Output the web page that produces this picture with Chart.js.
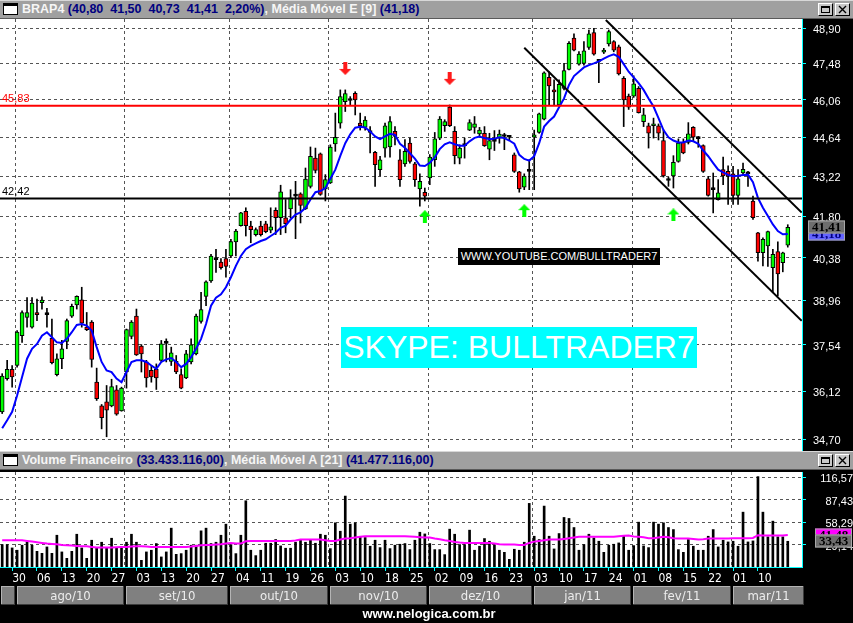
<!DOCTYPE html>
<html>
<head>
<meta charset="utf-8">
<script src="https://cdn.jsdelivr.net/npm/chart.js@4.4.1/dist/chart.umd.min.js"></script>
<style>
  body { margin: 0; background: #000; width: 853px; height: 623px; overflow: hidden; position: relative; font-family: 'Liberation Sans', Arial, sans-serif; }
  .hdr { position: absolute; left: 0; width: 853px; height: 17px; background: #a0a0a0; border-top: 1px solid #d8d8d8; border-bottom: 1px solid #5a5a5a; }
  .ico { position: absolute; left: 3px; top: 2px; width: 13px; height: 8px; background: #fff; border: 1px solid #000; border-top-width: 3px; }
  .ttl { position: absolute; left: 22px; top: 1px; font: bold 12.5px 'Liberation Sans', Arial, sans-serif; white-space: pre; line-height: 15px; }
  .w { color: #f6f6f6; }
  .n { color: #000080; }
  .btn { position: absolute; top: 2px; width: 15px; height: 13px; box-sizing: border-box; background: #c8c8c8; border-top: 1px solid #fff; border-left: 1px solid #fff; border-right: 1px solid #000; border-bottom: 1px solid #000; }
  .btn svg { position: absolute; left: 1px; top: 1px; }
  canvas { position: absolute; left: 0; }
  .skype { position: absolute; left: 341px; top: 327px; width: 356px; height: 41px; background: #00ffff; color: #fff; font: 32px 'Liberation Sans', Arial, sans-serif; line-height: 41px; text-align: center; }
  .yt { position: absolute; left: 458px; top: 248px; width: 202px; height: 17px; background: #000; color: #fff; font: 11px 'Liberation Sans', Arial, sans-serif; line-height: 17px; text-align: center; }
  .foot { position: absolute; left: 0; top: 606px; width: 858px; text-align: center; color: #fff; font: bold 13px 'Liberation Sans Narrow', 'Liberation Sans', sans-serif; }
</style>
</head>
<body>
<div class="hdr" style="top:0">
  <div class="ico"></div>
  <div class="ttl"><span class="w">BRAP4 </span><span class="n">(40,80  41,50  40,73  41,41  2,20%)</span><span class="w">, Média Móvel E [9] </span><span class="n">(41,18)</span></div>
  <div class="btn" style="left:818px"><svg width="11" height="9"><rect x="1.5" y="1.5" width="8" height="6" fill="none" stroke="#000"/><rect x="1" y="1" width="9" height="2" fill="#000"/></svg></div>
  <div class="btn" style="left:835px"><svg width="11" height="9"><path d="M2 1 L9 8 M9 1 L2 8" stroke="#000" stroke-width="1.4"/></svg></div>
</div>
<canvas id="priceChart" width="853" height="432" style="top:19px"></canvas>
<div class="hdr" style="top:451px">
  <div class="ico"></div>
  <div class="ttl"><span class="w">Volume Financeiro </span><span class="n">(33.433.116,00)</span><span class="w">, Média Móvel A [21] </span><span class="n">(41.477.116,00)</span></div>
  <div class="btn" style="left:818px"><svg width="11" height="9"><rect x="1.5" y="1.5" width="8" height="6" fill="none" stroke="#000"/><rect x="1" y="1" width="9" height="2" fill="#000"/></svg></div>
  <div class="btn" style="left:835px"><svg width="11" height="9"><path d="M2 1 L9 8 M9 1 L2 8" stroke="#000" stroke-width="1.4"/></svg></div>
</div>
<canvas id="volumeChart" width="853" height="151" style="top:472px"></canvas>
<div class="yt">WWW.YOUTUBE.COM/BULLTRADER7</div>
<div class="skype">SKYPE: BULLTRADER7</div>
<div class="foot">www.nelogica.com.br</div>

<script>
// daily candles, 28/jul/2010 .. mar/2011
const opens = [
  35.50, 36.50, 36.78, 36.90, 37.83, 38.41, 38.10, 38.57, 38.89, 38.50,
  37.75, 36.62, 37.11, 37.65, 38.45, 38.81, 38.98, 38.10, 38.26, 36.39,
  35.68, 35.80, 35.68, 36.16, 35.53, 36.70, 37.81, 38.45, 37.50, 37.01,
  36.75, 36.78, 37.06, 37.59, 37.03, 37.03, 36.62, 36.52, 37.01, 37.26,
  38.28, 39.09, 39.60, 40.31, 40.23, 40.34, 40.43, 40.91, 41.47, 41.97,
  41.45, 41.16, 41.45, 41.53, 41.31, 42.00, 41.74, 41.74, 42.05, 42.50,
  42.58, 42.05, 42.85, 43.87, 44.03, 42.76, 42.97, 44.39, 45.17, 45.99,
  46.03, 46.31, 45.17, 45.01, 44.82, 44.08, 43.45, 44.24, 44.28, 44.86,
  43.81, 43.66, 44.42, 43.66, 42.76, 42.64, 43.15, 43.81, 44.61, 45.07,
  45.78, 44.86, 43.87, 44.33, 44.91, 45.01, 44.77, 44.79, 44.20, 44.49,
  44.61, 44.67, 44.64, 43.99, 43.37, 42.82, 43.39, 44.64, 44.82, 45.32,
  46.93, 46.44, 45.86, 46.50, 47.24, 48.49, 47.45, 47.48, 48.12, 48.72,
  47.56, 47.93, 48.26, 48.35, 48.14, 46.89, 46.20, 46.20, 46.50, 45.23,
  45.07, 45.07, 45.07, 44.52, 43.06, 43.22, 43.75, 44.45, 44.45, 45.01,
  44.59, 44.33, 43.12, 42.73, 42.38, 43.45, 43.39, 43.30, 42.53, 43.33,
  43.30, 42.33, 41.22, 40.54, 40.77, 40.04, 40.58, 40.21, 40.80
];
const highs = [
  36.65, 37.06, 36.90, 37.99, 38.62, 39.05, 39.05, 39.00, 39.08, 38.70,
  38.36, 37.26, 37.68, 38.36, 38.84, 39.11, 39.39, 38.57, 38.31, 36.82,
  35.72, 36.29, 36.48, 36.29, 36.24, 38.04, 38.31, 38.68, 37.55, 37.06,
  36.90, 36.95, 37.68, 37.73, 37.47, 37.21, 36.80, 37.37, 37.73, 38.52,
  39.22, 39.60, 40.49, 40.66, 40.34, 40.66, 41.00, 41.34, 41.93, 42.09,
  41.62, 41.39, 41.62, 41.62, 42.09, 42.09, 42.89, 42.38, 42.73, 43.03,
  42.62, 43.51, 44.28, 44.24, 44.06, 43.27, 44.36, 45.55, 46.44, 46.44,
  46.18, 46.37, 45.55, 45.42, 45.04, 44.12, 43.94, 45.17, 45.42, 45.04,
  44.18, 44.55, 44.61, 43.72, 43.30, 42.79, 44.00, 44.82, 45.42, 45.30,
  45.86, 45.04, 44.36, 44.61, 45.30, 45.42, 45.01, 45.04, 44.79, 44.89,
  44.91, 44.79, 44.70, 44.06, 43.39, 43.30, 43.81, 44.91, 45.55, 47.15,
  47.15, 46.83, 46.83, 47.48, 48.35, 48.66, 47.95, 48.35, 48.82, 48.89,
  47.64, 48.08, 48.82, 48.39, 48.21, 46.96, 46.28, 46.99, 46.57, 45.73,
  45.17, 45.36, 45.14, 44.91, 43.18, 43.96, 44.58, 44.58, 45.19, 45.04,
  44.67, 44.36, 43.21, 43.33, 43.09, 43.91, 43.59, 43.57, 43.45, 43.69,
  43.39, 42.50, 41.24, 41.05, 41.28, 40.66, 40.91, 40.56, 41.50
];
const lows = [
  35.45, 36.45, 36.24, 36.85, 37.62, 38.10, 38.07, 38.31, 38.68, 38.10,
  36.95, 36.58, 36.80, 37.42, 38.41, 38.68, 38.10, 37.99, 36.85, 35.84,
  35.00, 34.77, 35.65, 35.40, 35.52, 36.21, 37.73, 37.21, 36.70, 36.24,
  36.39, 36.17, 37.01, 37.01, 36.90, 36.65, 36.19, 36.50, 36.95, 37.23,
  38.23, 38.79, 39.55, 39.88, 39.99, 39.72, 40.37, 40.43, 41.45, 41.11,
  40.88, 41.11, 41.11, 41.22, 41.22, 41.16, 41.16, 41.22, 41.74, 41.02,
  41.56, 42.03, 42.79, 43.33, 42.53, 42.33, 42.95, 44.12, 44.98, 45.61,
  45.87, 45.48, 44.91, 44.91, 44.06, 42.85, 43.22, 43.91, 43.91, 44.36,
  42.85, 43.57, 43.69, 42.85, 42.15, 42.33, 42.91, 43.57, 44.55, 44.86,
  45.04, 43.66, 43.66, 43.87, 44.89, 44.79, 44.64, 44.30, 43.81, 44.15,
  44.42, 44.18, 44.52, 43.35, 42.64, 42.73, 42.73, 42.73, 44.79, 45.29,
  45.86, 45.86, 45.83, 46.44, 47.22, 47.98, 47.41, 47.41, 48.04, 47.81,
  46.72, 47.87, 48.17, 47.94, 47.02, 45.04, 45.69, 46.15, 45.55, 45.04,
  44.24, 44.61, 44.54, 43.18, 42.85, 42.79, 43.72, 44.03, 44.39, 44.49,
  44.27, 43.35, 42.50, 41.91, 42.36, 42.91, 42.21, 42.21, 42.21, 43.27,
  42.85, 41.68, 40.26, 40.10, 40.08, 39.22, 39.11, 39.90, 40.73
];
const closes = [
  36.58, 36.78, 36.55, 37.94, 38.57, 38.57, 38.87, 38.50, 38.97, 38.50,
  36.99, 37.11, 37.42, 38.31, 38.77, 39.09, 38.23, 38.02, 37.09, 35.89,
  35.33, 35.55, 36.26, 35.43, 36.21, 38.02, 38.26, 37.23, 37.26, 36.52,
  36.55, 36.52, 37.57, 37.59, 37.29, 36.70, 36.21, 37.26, 37.54, 38.45,
  38.66, 39.57, 40.43, 40.31, 40.04, 40.08, 40.92, 41.28, 41.91, 41.47,
  41.33, 41.33, 41.16, 41.26, 41.43, 41.74, 42.65, 41.54, 42.44, 42.50,
  42.17, 43.11, 43.94, 43.42, 42.56, 43.09, 44.28, 44.64, 46.18, 46.30,
  46.03, 46.05, 45.07, 45.29, 44.82, 43.63, 43.81, 45.07, 45.23, 44.67,
  43.09, 44.12, 43.75, 43.09, 43.03, 42.50, 43.91, 44.58, 45.32, 45.23,
  45.07, 43.96, 44.24, 44.33, 45.19, 45.14, 44.91, 44.33, 44.52, 44.49,
  44.76, 44.67, 44.64, 43.39, 42.76, 43.22, 43.39, 44.73, 45.52, 47.11,
  46.59, 46.36, 46.66, 47.19, 48.28, 48.01, 47.85, 47.98, 48.66, 47.85,
  47.56, 48.01, 48.76, 48.01, 47.06, 46.05, 45.78, 46.68, 45.57, 45.48,
  44.79, 45.14, 44.79, 43.22, 43.06, 43.72, 44.42, 44.06, 44.77, 44.64,
  44.59, 43.39, 42.53, 42.73, 42.62, 43.22, 43.21, 42.53, 43.12, 43.46,
  43.30, 41.74, 40.54, 41.00, 41.26, 40.49, 39.83, 40.54, 41.41
];
// Média Móvel E [9]
const ema9 = [
  35.02, 35.25, 35.50, 35.99, 36.55, 37.11, 37.42, 37.57, 37.83, 37.94,
  37.78, 37.62, 37.60, 37.73, 37.94, 38.17, 38.20, 38.15, 37.99, 37.47,
  37.01, 36.75, 36.70, 36.50, 36.39, 36.70, 37.01, 37.06, 37.06, 37.01,
  36.90, 36.80, 37.01, 37.09, 37.13, 37.01, 36.85, 36.95, 37.16, 37.42,
  37.73, 38.20, 38.79, 39.05, 39.16, 39.39, 39.72, 40.10, 40.43, 40.66,
  40.77, 40.86, 40.94, 41.00, 41.11, 41.22, 41.39, 41.47, 41.68, 41.85,
  41.93, 42.09, 42.38, 42.64, 42.68, 42.79, 43.12, 43.45, 43.95, 44.42,
  44.75, 45.00, 45.03, 45.01, 44.86, 44.67, 44.57, 44.67, 44.77, 44.73,
  44.40, 44.25, 44.05, 43.85, 43.60, 43.58, 43.70, 43.90, 44.20, 44.38,
  44.45, 44.38, 44.33, 44.33, 44.49, 44.62, 44.67, 44.61, 44.57, 44.59,
  44.64, 44.61, 44.52, 44.40, 43.99, 43.84, 43.78, 43.94, 44.42, 45.04,
  45.25, 45.42, 45.77, 46.11, 46.63, 46.98, 47.15, 47.32, 47.41, 47.48,
  47.56, 47.67, 47.77, 47.84, 47.74, 47.45, 47.15, 46.93, 46.70, 46.44,
  46.11, 45.80, 45.36, 44.91, 44.64, 44.52, 44.45, 44.45, 44.52, 44.49,
  44.40, 44.15, 43.94, 43.69, 43.45, 43.35, 43.26, 43.21, 43.23, 43.26,
  43.27, 43.00, 42.44, 42.09, 41.80, 41.51, 41.28, 41.17, 41.18
];
// Volume Financeiro (millions) and Média Móvel A [21]
const volumes = [
  29.1, 29.1, 24.8, 21.8, 28.3, 32.6, 28.3, 20.4, 17.8, 26.1,
  17.8, 41.3, 19.6, 11.3, 20.4, 42.6, 24.8, 11.3, 34.8, 24.8,
  32.2, 24.8, 37.4, 24.8, 24.8, 32.2, 42.6, 32.2, 8.7, 19.6,
  21.8, 30.5, 13.1, 19.6, 50.5, 16.5, 17.4, 21.8, 28.3, 28.3,
  47.0, 50.5, 30.5, 32.2, 41.3, 55.7, 29.1, 17.4, 41.3, 86.1,
  21.8, 14.8, 21.8, 30.9, 30.9, 35.7, 27.4, 24.4, 24.4, 32.2,
  35.7, 32.2, 35.7, 30.9, 42.6, 41.3, 23.9, 57.4, 46.5, 92.2,
  55.7, 57.4, 39.2, 38.3, 27.0, 34.8, 25.2, 34.8, 23.9, 28.3,
  29.6, 30.5, 22.6, 34.8, 45.2, 43.0, 30.5, 22.6, 22.6, 16.1,
  49.2, 42.6, 29.1, 29.1, 47.9, 21.8, 27.0, 37.0, 33.5, 29.1,
  21.8, 19.1, 10.0, 23.1, 21.8, 32.2, 82.7, 40.0, 35.7, 79.2,
  40.0, 23.5, 43.5, 64.4, 63.1, 51.3, 21.8, 29.1, 42.6, 37.8,
  33.5, 19.1, 28.3, 29.6, 31.3, 40.0, 21.8, 27.8, 58.3, 27.4,
  25.2, 58.3, 55.7, 57.4, 51.3, 48.7, 22.6, 19.1, 35.7, 27.0,
  21.8, 21.8, 40.0, 48.7, 26.1, 34.8, 32.6, 33.5, 27.0, 71.3,
  32.6, 33.9, 117.5, 71.3, 39.2, 59.6, 39.2, 39.2, 33.43
];
const volMa21 = [
  34.8, 34.8, 34.8, 34.8, 34.8, 33.9, 33.0, 32.2, 31.3, 30.5,
  30.0, 29.6, 28.7, 28.3, 27.8, 27.4, 27.0, 27.0, 26.1, 25.2,
  25.2, 25.2, 25.2, 25.7, 26.1, 26.1, 26.5, 27.0, 27.0, 26.5,
  26.1, 26.1, 26.1, 26.1, 26.1, 26.1, 26.1, 26.1, 26.5, 27.4,
  28.3, 28.7, 28.7, 29.1, 29.6, 30.5, 31.3, 30.5, 30.5, 33.5,
  33.9, 33.9, 33.9, 33.9, 33.9, 33.9, 33.9, 33.9, 33.9, 34.4,
  35.7, 35.7, 35.7, 35.7, 35.7, 34.8, 33.9, 33.9, 35.7, 37.0,
  37.4, 38.3, 39.2, 40.0, 40.0, 40.0, 40.0, 40.0, 40.0, 40.0,
  40.0, 40.0, 39.6, 39.2, 38.7, 38.3, 38.3, 37.0, 36.1, 34.8,
  33.9, 32.6, 31.8, 31.3, 31.3, 31.3, 31.3, 31.3, 31.3, 30.5,
  29.6, 29.1, 29.1, 29.1, 28.7, 28.7, 31.3, 33.0, 33.9, 34.8,
  35.7, 35.7, 35.7, 36.5, 37.4, 38.3, 39.2, 39.2, 39.2, 39.2,
  39.2, 39.2, 39.2, 39.2, 40.0, 40.5, 40.9, 39.6, 39.2, 38.7,
  37.4, 37.4, 38.3, 39.2, 38.7, 37.4, 37.0, 37.0, 37.0, 36.5,
  35.7, 36.1, 37.0, 37.0, 37.0, 37.0, 37.0, 37.4, 37.4, 37.4,
  37.4, 37.8, 41.3, 40.9, 40.9, 40.9, 40.9, 40.9, 41.48
];

const priceTicks = [48.90, 47.48, 46.06, 44.64, 43.22, 41.80, 40.38, 38.96, 37.54, 36.12, 34.70];
const volTicks = [29.14, 58.29, 87.43, 116.57];
const dateTicks = ['30', '06', '13', '20', '27', '03', '13', '20', '27', '04', '11', '19', '26', '03', '10', '18', '25',
                   '02', '09', '16', '23', '03', '10', '17', '24', '01', '08', '15', '22', '01', '10'];
const dateTickIdx = [2, 7, 12, 17, 22, 27, 32, 37, 42, 47, 52, 57, 62, 67, 72, 77, 82,
                     87, 92, 97, 102, 107, 112, 117, 122, 127, 132, 137, 142, 147, 152];
const monthNames = ['ago/10', 'set/10', 'out/10', 'nov/10', 'dez/10', 'jan/11', 'fev/11', 'mar/11'];
const monthStarts = [3, 25, 46, 66, 86, 107, 127, 147];

// drawn studies
const hLineValues = [45.83, 42.42];
const hLineColors = ['#ff0000', '#000000'];
const channelLowX = [105.0, 160.8];
const channelLowY = [48.10, 38.30];
const channelHighX = [121.4, 160.8];
const channelHighY = [49.23, 41.92];
const downArrowX = [69, 90];
const downArrowY = [47.28, 46.89];
const upArrowX = [85, 105, 135];
const upArrowY = [41.78, 41.99, 41.84];

const X_MIN = -0.44;
const X_MAX = 160.86;
const last = closes.length - 1;
const SANS = "'Liberation Sans', Arial, sans-serif";
const NARROW = "'Liberation Sans Narrow', 'DejaVu Sans Condensed', 'Liberation Sans', sans-serif";

function fmt(v) {
    return Number(v).toFixed(2).replace('.', ',');
}

function arrowImage(color, up) {
    const c = document.createElement('canvas');
    c.width = 12;
    c.height = 13;
    const g = c.getContext('2d');
    g.fillStyle = color;
    g.beginPath();
    if (up) {
        g.moveTo(6, 0); g.lineTo(12, 6); g.lineTo(8, 6); g.lineTo(8, 13);
        g.lineTo(4, 13); g.lineTo(4, 6); g.lineTo(0, 6);
    } else {
        g.moveTo(4, 0); g.lineTo(8, 0); g.lineTo(8, 7); g.lineTo(12, 7);
        g.lineTo(6, 13); g.lineTo(0, 7); g.lineTo(4, 7);
    }
    g.closePath();
    g.fill();
    return c;
}

function valueBox(ctx, x, y, text, fill, color) {
    ctx.fillStyle = fill;
    ctx.fillRect(x, Math.round(y) - 6.5, 37, 13);
    ctx.strokeStyle = '#a8a8a8';
    ctx.lineWidth = 1;
    ctx.strokeRect(x + 0.5, Math.round(y) - 6, 36, 12);
    ctx.fillStyle = color;
    ctx.font = "bold 13px 'Liberation Serif', serif";
    ctx.textAlign = 'center';
    ctx.textBaseline = 'middle';
    ctx.fillText(text, x + 18.5, Math.round(y) + 1);
}

function paintPanel(chart) {
    const {ctx, chartArea: a, width, height} = chart;
    ctx.save();
    ctx.fillStyle = '#000';
    ctx.fillRect(0, 0, width, height);
    ctx.fillStyle = '#fff';
    ctx.fillRect(a.left, a.top, a.right - a.left, a.bottom - a.top);
    ctx.restore();
}

function xAxisGrid() {
    return {
        type: 'linear', min: X_MIN, max: X_MAX, offset: false, bounds: 'data',
        grid: { color: '#555', drawTicks: false, offset: false },
        border: { display: false, dash: [3, 3] },
        ticks: { display: false },
        afterBuildTicks: s => { s.ticks = monthStarts.map(m => ({ value: m - 0.3 })); },
        afterFit: s => { s.height = 0; s.paddingLeft = 0; s.paddingRight = 0; }
    };
}

const pricePanel = {
    id: 'pricePanel',
    beforeDraw: paintPanel,
    afterDraw(chart) {
        const {ctx, chartArea: a, scales: {y}} = chart;
        ctx.save();
        ctx.font = '11px ' + SANS;
        ctx.textAlign = 'left';
        ctx.textBaseline = 'bottom';
        hLineValues.forEach((v, k) => {
            ctx.fillStyle = hLineColors[k];
            ctx.fillText(fmt(v), a.left + 2, y.getPixelForValue(v) - 1);
        });
        ctx.strokeStyle = '#00ffff';
        ctx.lineWidth = 1;
        ctx.beginPath();
        ctx.moveTo(a.right + 0.5, a.top);
        ctx.lineTo(a.right + 0.5, a.bottom);
        ctx.stroke();
        valueBox(ctx, a.right + 6, y.getPixelForValue(ema9[last]), fmt(ema9[last]), '#6464ff', '#000080');
        valueBox(ctx, a.right + 6, y.getPixelForValue(closes[last]), fmt(closes[last]), '#6e6e6e', '#000');
        ctx.restore();
    }
};

const volumePanel = {
    id: 'volumePanel',
    beforeDraw: paintPanel,
    afterDraw(chart) {
        const {ctx, chartArea: a, scales: {x, y}} = chart;
        ctx.save();
        ctx.strokeStyle = '#00ffff';
        ctx.lineWidth = 1;
        ctx.beginPath();
        ctx.moveTo(a.right + 0.5, a.top);
        ctx.lineTo(a.right + 0.5, a.bottom);
        ctx.moveTo(0, a.bottom + 0.5);
        ctx.lineTo(a.right + 1, a.bottom + 0.5);
        ctx.stroke();
        valueBox(ctx, a.right + 13, y.getPixelForValue(volMa21[last]), fmt(volMa21[last]), '#ff00ff', '#000');
        valueBox(ctx, a.right + 13, y.getPixelForValue(volumes[last]), fmt(volumes[last]), '#6e6e6e', '#000');

        // month bar under the date labels
        const top = a.bottom + 19, h = 19;
        const edges = monthStarts.map(m => Math.round(x.getPixelForValue(m - 0.3)));
        const cells = [[1, edges[0] - 1, '']];
        monthNames.forEach((name, k) => {
            const end = k + 1 < edges.length ? edges[k + 1] - 1 : a.right + 2;
            cells.push([edges[k] + 1, end, name]);
        });
        ctx.font = '13px ' + NARROW;
        ctx.textAlign = 'center';
        ctx.textBaseline = 'middle';
        cells.forEach(([x0, x1, name]) => {
            ctx.fillStyle = '#808080';
            ctx.fillRect(x0, top, x1 - x0, h);
            ctx.fillStyle = '#b4b4b4';
            ctx.fillRect(x0, top, x1 - x0, 1);
            ctx.fillRect(x0, top, 1, h);
            ctx.fillStyle = '#3c3c3c';
            ctx.fillRect(x0, top + h - 1, x1 - x0, 1);
            ctx.fillRect(x1 - 1, top, 1, h);
            ctx.fillStyle = '#ececec';
            ctx.fillText(name, (x0 + x1) / 2, top + h / 2 + 1);
        });
        ctx.restore();
    }
};

function drawPriceChart() {
    const ctx = document.getElementById('priceChart').getContext('2d');
    const bodyColors = opens.map((o, i) => closes[i] > o ? '#00ff00' : closes[i] < o ? '#ff0000' : '#000000');
    const flat = (xs, ys) => xs.map((v, i) => ({ x: v, y: ys[i] }));
    new Chart(ctx, {
        type: 'bar',
        data: {
            datasets: [
                {
                    type: 'line', data: flat(downArrowX, downArrowY), showLine: false, order: 0,
                    pointStyle: arrowImage('#ff1a1a', false), pointRadius: 6
                },
                {
                    type: 'line', data: flat(upArrowX, upArrowY), showLine: false, order: 0,
                    pointStyle: arrowImage('#00ff00', true), pointRadius: 6
                },
                ...hLineValues.map((v, k) => ({
                    type: 'line', data: [{ x: X_MIN, y: v }, { x: X_MAX, y: v }],
                    borderColor: hLineColors[k], borderWidth: 2, pointRadius: 0, order: 1
                })),
                {
                    type: 'line', data: flat(channelLowX, channelLowY),
                    borderColor: '#000', borderWidth: 2, pointRadius: 0, order: 1
                },
                {
                    type: 'line', data: flat(channelHighX, channelHighY),
                    borderColor: '#000', borderWidth: 2, pointRadius: 0, order: 1
                },
                {
                    type: 'line', data: ema9.map((v, i) => ({ x: i, y: v })),
                    borderColor: '#0000ff', borderWidth: 2, pointRadius: 0, order: 2
                },
                {
                    data: opens.map((o, i) => ({ x: i, y: [o, closes[i]] })),
                    backgroundColor: bodyColors, borderColor: '#000', borderWidth: 1,
                    borderSkipped: false, barThickness: 4, minBarLength: 2, grouped: false, order: 3
                },
                {
                    data: lows.map((l, i) => ({ x: i, y: [l, highs[i]] })),
                    backgroundColor: '#000', borderWidth: 0, barThickness: 1, grouped: false, order: 4
                }
            ]
        },
        options: {
            responsive: false,
            animation: false,
            devicePixelRatio: 1,
            layout: { padding: 0, autoPadding: false },
            plugins: { legend: { display: false }, tooltip: { enabled: false } },
            scales: {
                x: xAxisGrid(),
                y: {
                    type: 'logarithmic', position: 'right', min: 34.36, max: 49.27, bounds: 'data',
                    grid: { color: '#555', drawTicks: true, tickLength: 4, tickColor: '#00ffff', tickBorderDash: [] },
                    border: { display: false, dash: [3, 3] },
                    ticks: { color: '#fff', padding: 7, labelOffset: 2, autoSkip: false, font: { family: SANS, size: 11 }, callback: v => fmt(v) },
                    afterBuildTicks: s => { s.ticks = priceTicks.map(v => ({ value: v })); },
                    afterFit: s => { s.width = 51; s.paddingTop = 0; s.paddingBottom = 0; }
                }
            }
        },
        plugins: [pricePanel]
    });
}

function drawVolumeChart() {
    const ctx = document.getElementById('volumeChart').getContext('2d');
    new Chart(ctx, {
        type: 'bar',
        data: {
            datasets: [
                {
                    type: 'line', data: volMa21.map((v, i) => ({ x: i, y: v })),
                    borderColor: '#ff00ff', borderWidth: 2, pointRadius: 0, order: 1
                },
                {
                    data: volumes.map((v, i) => ({ x: i, y: v })),
                    backgroundColor: '#000', borderWidth: 0, barThickness: 2, grouped: false, order: 2
                }
            ]
        },
        options: {
            responsive: false,
            animation: false,
            devicePixelRatio: 1,
            layout: { padding: 0, autoPadding: false },
            plugins: { legend: { display: false }, tooltip: { enabled: false } },
            scales: {
                x: xAxisGrid(),
                xd: {
                    type: 'linear', position: 'bottom', min: X_MIN, max: X_MAX, offset: false, bounds: 'data',
                    grid: { drawOnChartArea: false, drawTicks: true, tickLength: 4, tickColor: '#00ffff', offset: false },
                    border: { display: false },
                    ticks: {
                        color: '#fff', padding: 1, autoSkip: false, maxRotation: 0, minRotation: 0, align: 'start',
                        font: { family: NARROW, size: 12 }, callback: (v, k) => dateTicks[k]
                    },
                    afterBuildTicks: s => { s.ticks = dateTickIdx.map(v => ({ value: v })); },
                    afterFit: s => { s.height = 56; s.paddingLeft = 0; s.paddingRight = 0; }
                },
                y: {
                    type: 'linear', position: 'right', min: 0, max: 123.5, bounds: 'data',
                    grid: { color: '#555', drawTicks: true, tickLength: 4, tickColor: '#00ffff', tickBorderDash: [] },
                    border: { display: false, dash: [3, 3] },
                    ticks: { color: '#fff', padding: 8, labelOffset: 2, crossAlign: 'far', autoSkip: false, font: { family: SANS, size: 11 }, callback: v => fmt(v) },
                    afterBuildTicks: s => { s.ticks = volTicks.map(v => ({ value: v })); },
                    afterFit: s => { s.width = 51; s.paddingTop = 0; s.paddingBottom = 0; }
                }
            }
        },
        plugins: [volumePanel]
    });
}

drawPriceChart();
drawVolumeChart();
</script>
</body>
</html>
